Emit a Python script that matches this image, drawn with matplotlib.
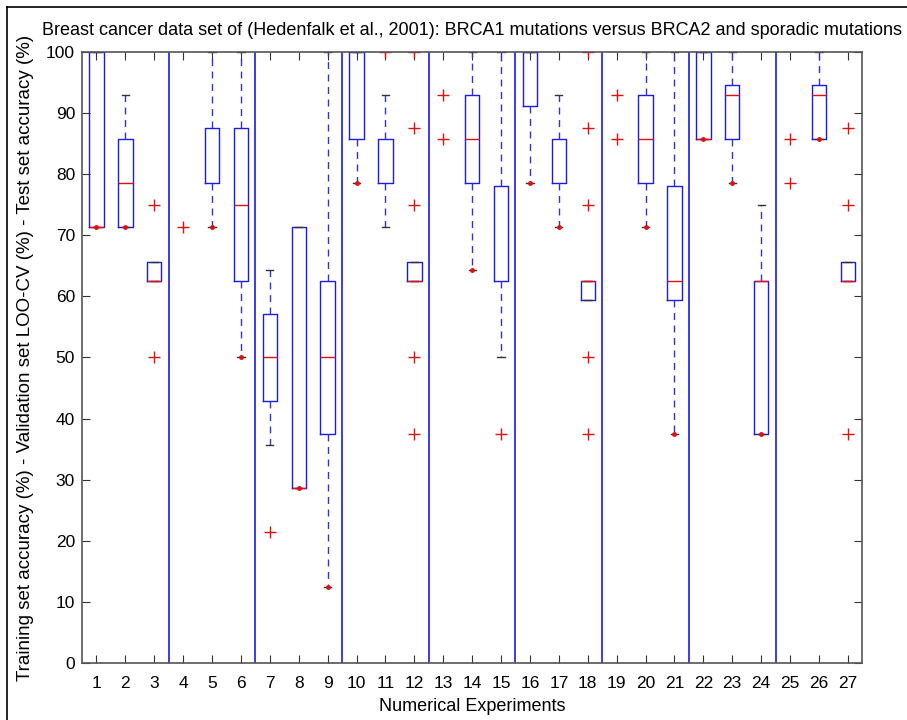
import matplotlib.pyplot as plt
from matplotlib.lines import Line2D
import numpy as np

plt.rcParams['font.family'] = ['Liberation Sans', 'DejaVu Sans']

# one entry per numerical experiment (None = no box drawn, only outliers)
experiments = list(range(1, 28))
q1 = [71.4, 71.4, 62.5, None, 78.6, 62.5, 42.9, 28.6, 37.5,
      85.7, 78.6, 62.5, None, 78.6, 62.5, 91.1, 78.6, 59.4,
      None, 78.6, 59.4, 85.7, 85.7, 37.5, None, 85.7, 62.5]
q3 = [100, 85.7, 65.6, None, 87.5, 87.5, 57.1, 71.4, 62.5,
      100, 85.7, 65.6, None, 92.9, 78.1, 100, 85.7, 62.5,
      None, 92.9, 78.1, 100, 94.6, 62.5, None, 94.6, 65.6]
# median None -> hidden under a box edge
medians = [71.4, 78.6, 62.5, None, None, 75, 50, 28.6, 50,
           None, None, 62.5, None, 85.7, None, None, None, 62.5,
           None, 85.7, 62.5, 85.7, 92.9, 62.5, None, 92.9, 62.5]
whisker_lo = [71.4, 71.4, 62.5, None, 71.4, 50, 35.7, 28.6, 12.5,
              78.6, 71.4, 62.5, None, 64.3, 50, 78.6, 71.4, 59.4,
              None, 71.4, 37.5, 85.7, 78.6, 37.5, None, 85.7, 62.5]
whisker_hi = [100, 92.9, 65.6, None, 100, 100, 64.3, 71.4, 100,
              100, 92.9, 65.6, None, 100, 100, 100, 92.9, 62.5,
              None, 100, 100, 100, 100, 75, None, 100, 65.6]
outliers = [[], [], [75, 50], [71.4], [], [], [21.4], [], [],
            [], [100], [100, 87.5, 75, 50, 37.5], [92.9, 85.7], [], [37.5], [], [], [100, 87.5, 75, 50, 37.5],
            [92.9, 85.7], [], [], [], [], [], [85.7, 78.6], [], [87.5, 75, 37.5]]
# small red points sitting on whisker ends
end_points = [[71.4], [71.4], [], [], [71.4], [50], [], [28.6], [12.5],
              [78.6], [], [], [], [64.3], [], [78.6], [71.4], [],
              [], [71.4], [37.5], [85.7], [78.6], [37.5], [], [85.7], []]
group_edges = [3.5, 6.5, 9.5, 12.5, 15.5, 18.5, 21.5, 24.5]

fig = plt.figure(figsize=(9.07, 7.2), dpi=100)
ax = fig.add_axes([0.0904, 0.079, 0.8603, 0.849])

stats, pos, hide_med = [], [], []
for i, x in enumerate(experiments):
    if q1[i] is None:
        continue
    stats.append({'q1': q1[i], 'q3': q3[i],
                  'med': medians[i] if medians[i] is not None else q1[i],
                  'whislo': whisker_lo[i], 'whishi': whisker_hi[i], 'fliers': []})
    pos.append(x)
    hide_med.append(medians[i] is None)

parts = ax.bxp(stats, positions=pos, widths=0.5, capwidths=0.25, showfliers=False,
               manage_ticks=False,
               boxprops=dict(color='#1a1aee', linewidth=1.0),
               whiskerprops=dict(color='#3333cc', linewidth=1.0, linestyle=(0, (5, 4))),
               capprops=dict(color='#333333', linewidth=1.0),
               medianprops=dict(color='#e01010', linewidth=1.0))
for line, hide in zip(parts['medians'], hide_med):
    line.set_visible(not hide)

for i, x in enumerate(experiments):
    if outliers[i]:
        ax.plot([x] * len(outliers[i]), outliers[i], '+', color='#e01010',
                markersize=9, markeredgewidth=1.0)
    if end_points[i]:
        ax.plot([x] * len(end_points[i]), end_points[i], '.', color='#e01010',
                markersize=5)

for xe in group_edges:
    ax.axvline(xe, color='#1a1aee', linewidth=1.2)

ax.set_xlim(0.5, 27.5)
ax.set_ylim(0, 100)
ax.set_xticks(experiments)
ax.set_xticklabels([str(e) for e in experiments])
ax.set_yticks(np.arange(0, 101, 10))
ax.tick_params(direction='in', length=6, top=True, right=True, labelsize=12.5,
               color='#333333', pad=5)
ax.tick_params(axis='x', pad=9)
for sp in ax.spines.values():
    sp.set_color('#555555')
    sp.set_linewidth(1.2)

ax.set_title('Breast cancer data set of (Hedenfalk et al., 2001): BRCA1 mutations versus BRCA2 and sporadic mutations',
             fontsize=13, pad=12)
ax.set_xlabel('Numerical Experiments', fontsize=13, labelpad=5)
ax.set_ylabel('Training set accuracy (%) - Validation set LOO-CV (%) - Test set accuracy (%)',
              fontsize=13.5, labelpad=9)

# frame lines at top and left of the figure
fig.add_artist(Line2D([0.008, 1.0], [0.99, 0.99], color='black', linewidth=1.2))
fig.add_artist(Line2D([0.008, 0.008], [0.0, 0.99], color='black', linewidth=1.2))

fig.savefig('out.png', dpi=100)
